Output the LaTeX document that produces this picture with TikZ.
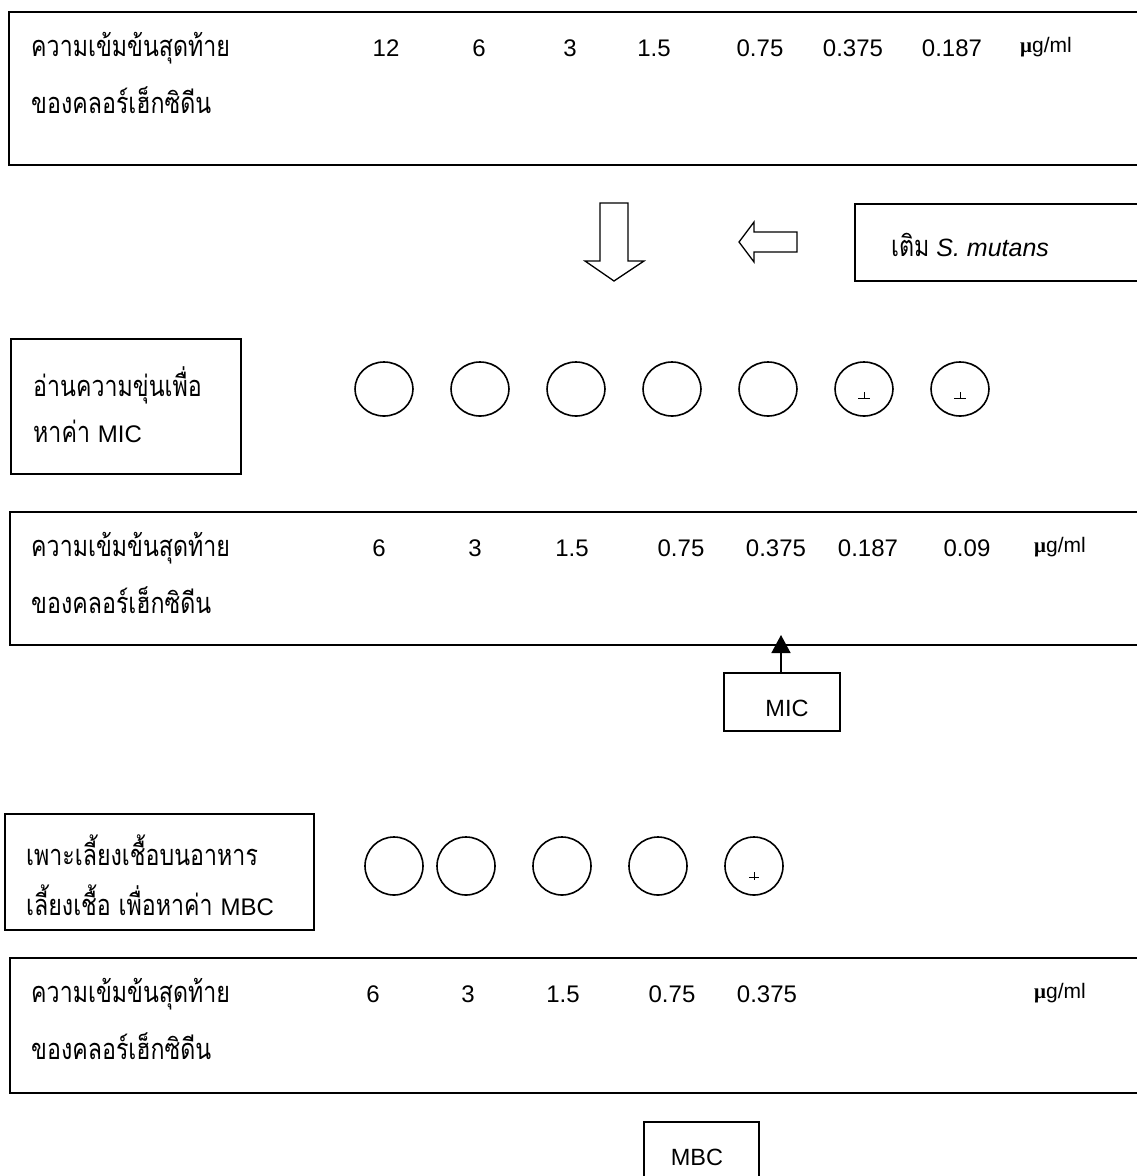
\documentclass[tikz,border=0pt]{standalone}
\usepackage{fontspec}
\setmainfont{Liberation Sans}
\newfontfamily\thai[Script=Thai,FakeStretch=0.8]{Loma}
\newfontfamily\muf{Liberation Serif}
\usetikzlibrary{shapes.geometric,arrows.meta}
\newcommand\thfont{\thai\fontsize{29}{32}\selectfont}
\newcommand\lat[1]{{\normalfont\fontsize{24}{28}\selectfont #1}}
\begin{document}
\begin{tikzpicture}[x=1pt,y=-1pt,
  frame/.style={draw,line width=1.8pt,rectangle,inner sep=0,anchor=north west},
  th/.style={anchor=west,inner sep=0,font=\thfont},
  num/.style={anchor=center,inner sep=0,font=\fontsize{24}{28}\selectfont},
  unit/.style={anchor=west,inner sep=0,font=\fontsize{21}{24}\selectfont},
  well/.style={draw,line width=1.6pt,ellipse,inner sep=0,minimum width=58pt,minimum height=#1},
  well/.default=58pt,
  tickline/.style={line width=0.9pt},
  blockarrow/.style={draw,line width=1.3pt,line join=miter},
  lbl/.style={anchor=center,inner sep=0,font=\fontsize{23.5}{26}\selectfont}]
\useasboundingbox (0,0) rectangle (1137,1176);
\clip (0,0) rectangle (1137,1176);
\fill[white] (0,0) rectangle (1137,1176);

% ---------- box 1
\node[frame,minimum width=1160pt,minimum height=153pt] (box1) at (8,11) {};
\node[th] (t1a) at (31,48) {ความเข้มข้นสุดท้าย};
\node[th] (t1b) at (31,100) {ของคลอร์เฮ็กซิดีน};
\foreach \v/\x [count=\i] in {12/386,6/479,3/570,1.5/654,0.75/760,0.375/853,0.187/952}
  \node[num] (n1\i) at (\x,48) {\v};
\node[unit] (u1) at (1020,47) {{\muf\bfseries μ}g/ml};

% ---------- arrows and S. mutans box
\draw[blockarrow] (600,203) -- (628,203) -- (628,261) -- (644,261) -- (614,281)
   -- (585,261) -- (600,261) -- cycle;
\draw[blockarrow] (797,232) -- (754,232) -- (754,222) -- (739,242) -- (754,262)
   -- (754,252) -- (797,252) -- cycle;
\node[frame,minimum width=400pt,minimum height=77pt] (sm) at (854,203) {};
\node[anchor=west,inner sep=0] (smt) at (891,245)
  {{\thfont เติม}{\fontsize{25}{28}\selectfont\ \itshape S. mutans}};

% ---------- MIC reading box
\node[frame,minimum width=230pt,minimum height=135pt] (mic1) at (10,338) {};
\node[th] (t2a) at (33,385) {อ่านความขุ่นเพื่อ};
\node[th] (t2b) at (33,431) {หาค่า \lat{MIC}};
\foreach \x [count=\i] in {384,480,576,672,768,864,960}
  \node[well=54pt] (c\i) at (\x,389) {};
\foreach \i in {6,7}{
  \draw[tickline] ([shift={(-6,9)}]c\i.center) -- ([shift={(6,9)}]c\i.center);
  \draw[tickline] ([shift={(0,9)}]c\i.center) -- ([shift={(0,3)}]c\i.center);
}

% ---------- box 2
\node[frame,minimum width=1160pt,minimum height=133pt] (box2) at (9,511) {};
\node[th] (t3a) at (31,548) {ความเข้มข้นสุดท้าย};
\node[th] (t3b) at (31,600) {ของคลอร์เฮ็กซิดีน};
\foreach \v/\x [count=\i] in {6/379,3/475,1.5/572,0.75/681,0.375/776,0.187/868,0.09/967}
  \node[num] (n2\i) at (\x,548) {\v};
\node[unit] (u2) at (1034,547) {{\muf\bfseries μ}g/ml};

% ---------- MIC box and arrow
\node[frame,minimum width=116pt,minimum height=58pt] (mic) at (723,672) {};
\node[lbl] (mict) at (787,708) {MIC};
\coordinate (micend) at (781,635);
\draw[line width=1.6pt,-{Triangle[width=19pt,length=18pt]}] (mic.north -| micend) -- (micend);

% ---------- MBC culture box
\node[frame,minimum width=309pt,minimum height=116pt] (mbc1) at (4,813) {};
\node[th] (t4a) at (26,850) {เพาะเลี้ยงเชื้อบนอาหาร};
\node[th] (t4b) at (26,900) {เลี้ยงเชื้อ เพื่อหาค่า \lat{MBC}};
\foreach \x [count=\i] in {394,466,562,658,754}
  \node[well] (d\i) at (\x,866) {};
\draw[tickline] ([shift={(-5,11)}]d5.center) -- ([shift={(5,11)}]d5.center);
\draw[tickline] ([shift={(0,6)}]d5.center) -- ([shift={(0,14)}]d5.center);

% ---------- box 3
\node[frame,minimum width=1160pt,minimum height=135pt] (box3) at (9,957) {};
\node[th] (t5a) at (31,994) {ความเข้มข้นสุดท้าย};
\node[th] (t5b) at (31,1046) {ของคลอร์เฮ็กซิดีน};
\foreach \v/\x [count=\i] in {6/373,3/468,1.5/563,0.75/672,0.375/767}
  \node[num] (n3\i) at (\x,994) {\v};
\node[unit] (u3) at (1034,993) {{\muf\bfseries μ}g/ml};

% ---------- MBC box
\node[frame,minimum width=115pt,minimum height=80pt] (mbc) at (643,1121) {};
\node[lbl] (mbct) at (697,1157) {MBC};
\end{tikzpicture}
\end{document}
